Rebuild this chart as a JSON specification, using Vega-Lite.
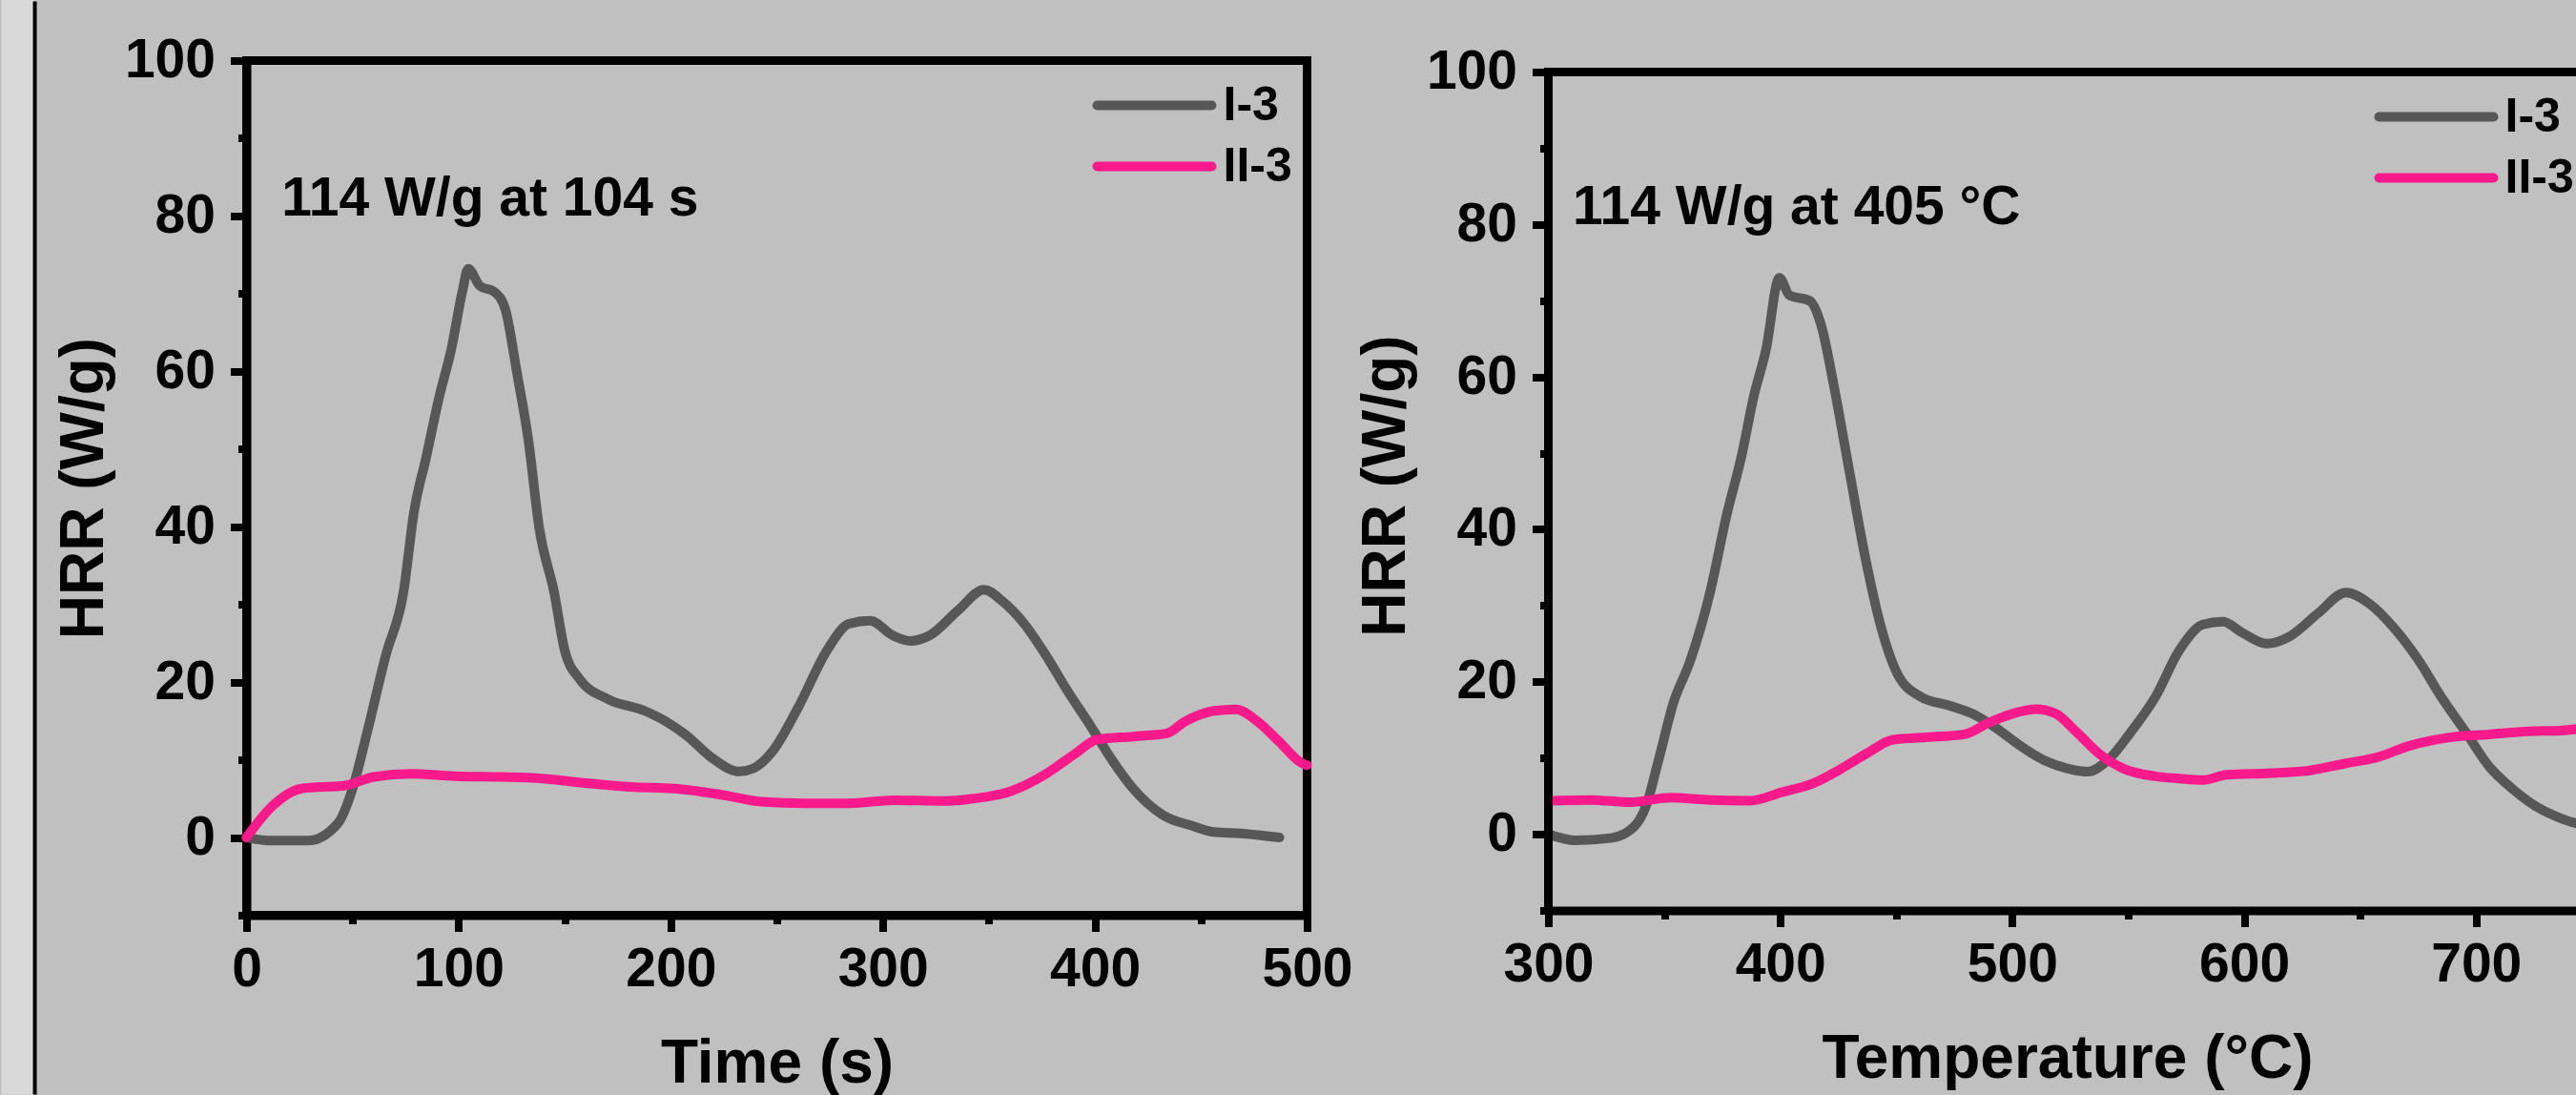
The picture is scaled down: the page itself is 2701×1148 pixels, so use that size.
{
  "$schema": "https://vega.github.io/schema/vega-lite/v6.json",
  "background": "#c0c0c0",
  "padding": {"left": -3.5, "top": -5.5, "right": 0, "bottom": 0},
  "spacing": 253,
  "bounds": "flush",
  "config": {
    "font": "Liberation Sans",
    "view": {"stroke": "black", "strokeWidth": 9},
    "axis": {
      "grid": false,
      "domainColor": "black",
      "domainWidth": 9,
      "tickColor": "black",
      "tickWidth": 8,
      "labelFont": "Liberation Sans",
      "labelFontWeight": "bold",
      "labelFontSize": 57,
      "labelColor": "black",
      "labelFlush": false,
      "labelOverlap": false,
      "titleFont": "Liberation Sans",
      "titleFontWeight": "bold",
      "titleFontSize": 64,
      "titleColor": "black"
    },
    "axisY": {"labelPadding": 16, "titlePadding": 10},
    "axisX": {"labelPadding": 12, "titlePadding": 39},
    "legend": {
      "orient": "none",
      "title": null,
      "symbolType": "M-1,0H5",
      "symbolSize": 1600,
      "symbolStrokeWidth": 10,
      "labelFont": "Liberation Sans",
      "labelFontSize": 50,
      "labelFontWeight": "bold",
      "labelColor": "black",
      "labelOffset": 87,
      "labelLimit": 400,
      "rowPadding": 14,
      "padding": 0
    }
  },
  "datasets": {
    "time": [
      {"series": "I-3", "time": 0, "hrr": 0},
      {"series": "I-3", "time": 12, "hrr": -0.4},
      {"series": "I-3", "time": 29, "hrr": -0.4},
      {"series": "I-3", "time": 43, "hrr": 1.8},
      {"series": "I-3", "time": 50, "hrr": 6.3},
      {"series": "I-3", "time": 57, "hrr": 13.7},
      {"series": "I-3", "time": 65.6, "hrr": 23.4},
      {"series": "I-3", "time": 74, "hrr": 31.6},
      {"series": "I-3", "time": 79, "hrr": 42},
      {"series": "I-3", "time": 84.5, "hrr": 48.7},
      {"series": "I-3", "time": 91, "hrr": 56.9},
      {"series": "I-3", "time": 96.5, "hrr": 62.8},
      {"series": "I-3", "time": 101.7, "hrr": 70.2},
      {"series": "I-3", "time": 104.5, "hrr": 73.2},
      {"series": "I-3", "time": 110, "hrr": 71},
      {"series": "I-3", "time": 117, "hrr": 70.2},
      {"series": "I-3", "time": 122, "hrr": 68},
      {"series": "I-3", "time": 127.5, "hrr": 59.8},
      {"series": "I-3", "time": 133, "hrr": 50.9},
      {"series": "I-3", "time": 138, "hrr": 39.8},
      {"series": "I-3", "time": 145, "hrr": 31.6},
      {"series": "I-3", "time": 150, "hrr": 24.1},
      {"series": "I-3", "time": 157, "hrr": 20.4},
      {"series": "I-3", "time": 170.5, "hrr": 17.8},
      {"series": "I-3", "time": 187.7, "hrr": 16.3},
      {"series": "I-3", "time": 198, "hrr": 14.9},
      {"series": "I-3", "time": 208, "hrr": 13},
      {"series": "I-3", "time": 218.7, "hrr": 10.4},
      {"series": "I-3", "time": 232.5, "hrr": 8.5},
      {"series": "I-3", "time": 239, "hrr": 8.9},
      {"series": "I-3", "time": 248, "hrr": 11.1},
      {"series": "I-3", "time": 260, "hrr": 16.7},
      {"series": "I-3", "time": 273.7, "hrr": 24.1},
      {"series": "I-3", "time": 284, "hrr": 27.5},
      {"series": "I-3", "time": 294, "hrr": 27.9},
      {"series": "I-3", "time": 304.7, "hrr": 26},
      {"series": "I-3", "time": 313, "hrr": 25.3},
      {"series": "I-3", "time": 322, "hrr": 26},
      {"series": "I-3", "time": 335.7, "hrr": 29.3},
      {"series": "I-3", "time": 347.7, "hrr": 31.9},
      {"series": "I-3", "time": 356, "hrr": 30.5},
      {"series": "I-3", "time": 366.7, "hrr": 27.5},
      {"series": "I-3", "time": 377, "hrr": 23.4},
      {"series": "I-3", "time": 387, "hrr": 18.9},
      {"series": "I-3", "time": 397.6, "hrr": 14.5},
      {"series": "I-3", "time": 408, "hrr": 10},
      {"series": "I-3", "time": 418, "hrr": 6.3},
      {"series": "I-3", "time": 432, "hrr": 2.9},
      {"series": "I-3", "time": 445.8, "hrr": 1.5},
      {"series": "I-3", "time": 456, "hrr": 0.7},
      {"series": "I-3", "time": 470, "hrr": 0.5},
      {"series": "I-3", "time": 487, "hrr": 0},
      {"series": "II-3", "time": 0, "hrr": 0},
      {"series": "II-3", "time": 12, "hrr": 4},
      {"series": "II-3", "time": 26, "hrr": 6.3},
      {"series": "II-3", "time": 46.6, "hrr": 6.7},
      {"series": "II-3", "time": 60, "hrr": 7.8},
      {"series": "II-3", "time": 77.6, "hrr": 8.2},
      {"series": "II-3", "time": 98, "hrr": 7.9},
      {"series": "II-3", "time": 119, "hrr": 7.8},
      {"series": "II-3", "time": 139.5, "hrr": 7.6},
      {"series": "II-3", "time": 160, "hrr": 7.0},
      {"series": "II-3", "time": 181, "hrr": 6.5},
      {"series": "II-3", "time": 201.5, "hrr": 6.3},
      {"series": "II-3", "time": 222, "hrr": 5.6},
      {"series": "II-3", "time": 242.8, "hrr": 4.6},
      {"series": "II-3", "time": 263.4, "hrr": 4.4},
      {"series": "II-3", "time": 284, "hrr": 4.4},
      {"series": "II-3", "time": 304.7, "hrr": 4.8},
      {"series": "II-3", "time": 328.8, "hrr": 4.7},
      {"series": "II-3", "time": 342.5, "hrr": 5},
      {"series": "II-3", "time": 359.7, "hrr": 5.9},
      {"series": "II-3", "time": 377, "hrr": 8.2},
      {"series": "II-3", "time": 390.7, "hrr": 10.8},
      {"series": "II-3", "time": 401, "hrr": 12.6},
      {"series": "II-3", "time": 418, "hrr": 13},
      {"series": "II-3", "time": 433.8, "hrr": 13.4},
      {"series": "II-3", "time": 442.3, "hrr": 14.9},
      {"series": "II-3", "time": 456, "hrr": 16.3},
      {"series": "II-3", "time": 466.5, "hrr": 16.5},
      {"series": "II-3", "time": 476.8, "hrr": 14.9},
      {"series": "II-3", "time": 487, "hrr": 12.3},
      {"series": "II-3", "time": 497.4, "hrr": 9.6},
      {"series": "II-3", "time": 500, "hrr": 9.3}
    ],
    "temp": [
      {"series": "I-3", "temp": 300, "hrr": 0},
      {"series": "I-3", "temp": 311.5, "hrr": -0.8},
      {"series": "I-3", "temp": 327, "hrr": -0.5},
      {"series": "I-3", "temp": 337, "hrr": 1},
      {"series": "I-3", "temp": 342, "hrr": 3.6},
      {"series": "I-3", "temp": 347.5, "hrr": 9.7},
      {"series": "I-3", "temp": 354, "hrr": 17.3},
      {"series": "I-3", "temp": 361, "hrr": 22.6},
      {"series": "I-3", "temp": 369.7, "hrr": 31.7},
      {"series": "I-3", "temp": 376.6, "hrr": 41.5},
      {"series": "I-3", "temp": 383.5, "hrr": 49.9},
      {"series": "I-3", "temp": 388.6, "hrr": 57.5},
      {"series": "I-3", "temp": 393.8, "hrr": 63.5},
      {"series": "I-3", "temp": 399.6, "hrr": 73},
      {"series": "I-3", "temp": 404, "hrr": 70.7},
      {"series": "I-3", "temp": 412.6, "hrr": 70},
      {"series": "I-3", "temp": 417.8, "hrr": 66.6},
      {"series": "I-3", "temp": 423, "hrr": 59},
      {"series": "I-3", "temp": 429.8, "hrr": 47.6},
      {"series": "I-3", "temp": 436.7, "hrr": 36.2},
      {"series": "I-3", "temp": 443.5, "hrr": 27.1},
      {"series": "I-3", "temp": 450.4, "hrr": 21.1},
      {"series": "I-3", "temp": 460.7, "hrr": 18},
      {"series": "I-3", "temp": 472.6, "hrr": 16.9},
      {"series": "I-3", "temp": 482.9, "hrr": 15.8},
      {"series": "I-3", "temp": 493.2, "hrr": 13.9},
      {"series": "I-3", "temp": 503.5, "hrr": 11.6},
      {"series": "I-3", "temp": 513.7, "hrr": 9.7},
      {"series": "I-3", "temp": 524, "hrr": 8.6},
      {"series": "I-3", "temp": 532.6, "hrr": 8.2},
      {"series": "I-3", "temp": 541.2, "hrr": 9.7},
      {"series": "I-3", "temp": 551.4, "hrr": 13.5},
      {"series": "I-3", "temp": 561.7, "hrr": 18},
      {"series": "I-3", "temp": 572, "hrr": 24.1},
      {"series": "I-3", "temp": 582.2, "hrr": 27.5},
      {"series": "I-3", "temp": 590.8, "hrr": 27.9},
      {"series": "I-3", "temp": 599.4, "hrr": 26.4},
      {"series": "I-3", "temp": 609.6, "hrr": 25},
      {"series": "I-3", "temp": 619.9, "hrr": 26},
      {"series": "I-3", "temp": 631.9, "hrr": 29},
      {"series": "I-3", "temp": 643.9, "hrr": 31.7},
      {"series": "I-3", "temp": 654.2, "hrr": 30.2},
      {"series": "I-3", "temp": 664.5, "hrr": 27.1},
      {"series": "I-3", "temp": 674.8, "hrr": 23},
      {"series": "I-3", "temp": 685, "hrr": 18},
      {"series": "I-3", "temp": 695.3, "hrr": 13.5},
      {"series": "I-3", "temp": 705.6, "hrr": 8.9},
      {"series": "I-3", "temp": 715.9, "hrr": 5.9},
      {"series": "I-3", "temp": 726.1, "hrr": 3.6},
      {"series": "I-3", "temp": 736.4, "hrr": 2.1},
      {"series": "I-3", "temp": 746, "hrr": 1.2},
      {"series": "II-3", "temp": 300, "hrr": 4.4},
      {"series": "II-3", "temp": 318, "hrr": 4.5},
      {"series": "II-3", "temp": 335.5, "hrr": 4.2},
      {"series": "II-3", "temp": 352.6, "hrr": 4.8},
      {"series": "II-3", "temp": 369.7, "hrr": 4.5},
      {"series": "II-3", "temp": 386.9, "hrr": 4.4},
      {"series": "II-3", "temp": 400.6, "hrr": 5.5},
      {"series": "II-3", "temp": 414.3, "hrr": 6.7},
      {"series": "II-3", "temp": 428, "hrr": 8.9},
      {"series": "II-3", "temp": 438.3, "hrr": 10.8},
      {"series": "II-3", "temp": 448.6, "hrr": 12.4},
      {"series": "II-3", "temp": 462.3, "hrr": 12.7},
      {"series": "II-3", "temp": 479.4, "hrr": 13.1},
      {"series": "II-3", "temp": 489.7, "hrr": 14.6},
      {"series": "II-3", "temp": 500, "hrr": 15.8},
      {"series": "II-3", "temp": 510.3, "hrr": 16.4},
      {"series": "II-3", "temp": 518.8, "hrr": 15.8},
      {"series": "II-3", "temp": 527.4, "hrr": 13.5},
      {"series": "II-3", "temp": 537.7, "hrr": 10.5},
      {"series": "II-3", "temp": 548, "hrr": 8.6},
      {"series": "II-3", "temp": 561.7, "hrr": 7.6},
      {"series": "II-3", "temp": 572, "hrr": 7.3},
      {"series": "II-3", "temp": 582.2, "hrr": 7.1},
      {"series": "II-3", "temp": 592.5, "hrr": 7.8},
      {"series": "II-3", "temp": 609.6, "hrr": 8.0},
      {"series": "II-3", "temp": 626.8, "hrr": 8.3},
      {"series": "II-3", "temp": 643.9, "hrr": 9.3},
      {"series": "II-3", "temp": 657.6, "hrr": 10.1},
      {"series": "II-3", "temp": 671.3, "hrr": 11.6},
      {"series": "II-3", "temp": 688.5, "hrr": 12.7},
      {"series": "II-3", "temp": 705.6, "hrr": 13.1},
      {"series": "II-3", "temp": 722.7, "hrr": 13.5},
      {"series": "II-3", "temp": 736.4, "hrr": 13.6},
      {"series": "II-3", "temp": 746, "hrr": 13.9}
    ]
  },
  "resolve": {"scale": {"color": "independent"}, "legend": {"color": "independent"}},
  "hconcat": [
    {
      "width": 1112,
      "height": 896,
      "layer": [
        {
          "data": {"values": [{}]},
          "mark": {"type": "rect", "color": "#d9d9d9", "clip": false},
          "encoding": {
            "x": {"datum": -115.557},
            "x2": {"datum": -99.8},
            "y": {"datum": 107.857},
            "y2": {"datum": -33.08}
          }
        },
        {
          "data": {"values": [{}]},
          "mark": {"type": "rule", "color": "black", "strokeWidth": 4},
          "encoding": {
            "x": {"datum": -99.8},
            "y": {"datum": 107.6},
            "y2": {"datum": -33.08}
          }
        },
        {
          "data": {"name": "time"},
          "mark": {"type": "line", "strokeWidth": 10, "strokeJoin": "round", "strokeCap": "round", "interpolate": "monotone"},
          "encoding": {
            "x": {
              "field": "time", "type": "quantitative",
              "scale": {"domain": [0, 500], "nice": false, "zero": false},
              "axis": {
                "title": "Time (s)",
                "values": [0, 50, 100, 150, 200, 250, 300, 350, 400, 450, 500],
                "labelExpr": "datum.value % 100 === 0 ? datum.label : ''",
                "tickSize": {"condition": {"test": "datum.value % 100 === 0", "value": 17}, "value": 9}
              }
            },
            "y": {
              "field": "hrr", "type": "quantitative",
              "scale": {"domain": [-10, 100], "nice": false, "zero": false},
              "axis": {
                "title": "HRR (W/g)",
                "values": [-10, 0, 10, 20, 30, 40, 50, 60, 70, 80, 90, 100],
                "labelExpr": "datum.value % 20 === 0 ? datum.label : ''",
                "tickSize": {"condition": {"test": "datum.value % 20 === 0", "value": 17}, "value": 9}
              }
            },
            "color": {
              "field": "series", "type": "nominal",
              "scale": {"domain": ["I-3", "II-3"], "range": ["#575757", "#fa1a8c"]},
              "legend": {
                "legendX": 887, "legendY": 22,
                "symbolType": "M-1,0H5",
                "encode": {"symbols": {"update": {"strokeCap": {"value": "round"}}}}
              }
            }
          }
        },
        {
          "data": {"values": [{}]},
          "mark": {"type": "text", "align": "left", "baseline": "alphabetic", "fontSize": 57, "fontWeight": "bold", "font": "Liberation Sans", "color": "black"},
          "encoding": {
            "x": {"datum": 16.5},
            "y": {"datum": 80},
            "text": {"value": "114 W/g at 104 s"}
          }
        }
      ]
    },
    {
      "width": 1079,
      "height": 891,
      "view": {"stroke": null},
      "layer": [
        {
          "data": {"name": "temp"},
          "mark": {"type": "line", "strokeWidth": 10, "strokeJoin": "round", "strokeCap": "round", "clip": true, "interpolate": "monotone"},
          "encoding": {
            "x": {
              "field": "temp", "type": "quantitative",
              "scale": {"domain": [300, 743.7], "nice": false, "zero": false},
              "axis": {
                "title": "Temperature (°C)",
                "titleX": 544,
                "values": [300, 350, 400, 450, 500, 550, 600, 650, 700],
                "labelExpr": "datum.value % 100 === 0 ? datum.label : ''",
                "tickSize": {"condition": {"test": "datum.value % 100 === 0", "value": 17}, "value": 9}
              }
            },
            "y": {
              "field": "hrr", "type": "quantitative",
              "scale": {"domain": [-10, 101.5], "nice": false, "zero": false},
              "axis": {
                "title": "HRR (W/g)",
                "domain": false,
                "values": [-10, 0, 10, 20, 30, 40, 50, 60, 70, 80, 90, 100],
                "labelExpr": "datum.value % 20 === 0 ? datum.label : ''",
                "tickSize": {"condition": {"test": "datum.value % 20 === 0", "value": 17}, "value": 9}
              }
            },
            "color": {
              "field": "series", "type": "nominal",
              "scale": {"domain": ["I-3", "II-3"], "range": ["#575757", "#fa1a8c"]},
              "legend": {
                "legendX": 866, "legendY": 34,
                "symbolType": "M-1,0H5",
                "encode": {"symbols": {"update": {"strokeCap": {"value": "round"}}}}
              }
            }
          }
        },
        {
          "data": {"values": [{}]},
          "mark": {"type": "rule", "color": "black", "strokeWidth": 9, "strokeCap": "square"},
          "encoding": {"y": {"datum": 100}}
        },
        {
          "data": {"values": [{}]},
          "mark": {"type": "rule", "color": "black", "strokeWidth": 9, "strokeCap": "square"},
          "encoding": {"x": {"datum": 300}, "y": {"datum": -10}, "y2": {"datum": 100}}
        },
        {
          "data": {"values": [{}]},
          "mark": {"type": "text", "align": "left", "baseline": "alphabetic", "fontSize": 57, "fontWeight": "bold", "font": "Liberation Sans", "color": "black"},
          "encoding": {
            "x": {"datum": 310.5},
            "y": {"datum": 80},
            "text": {"value": "114 W/g at 405 °C"}
          }
        }
      ]
    }
  ]
}
